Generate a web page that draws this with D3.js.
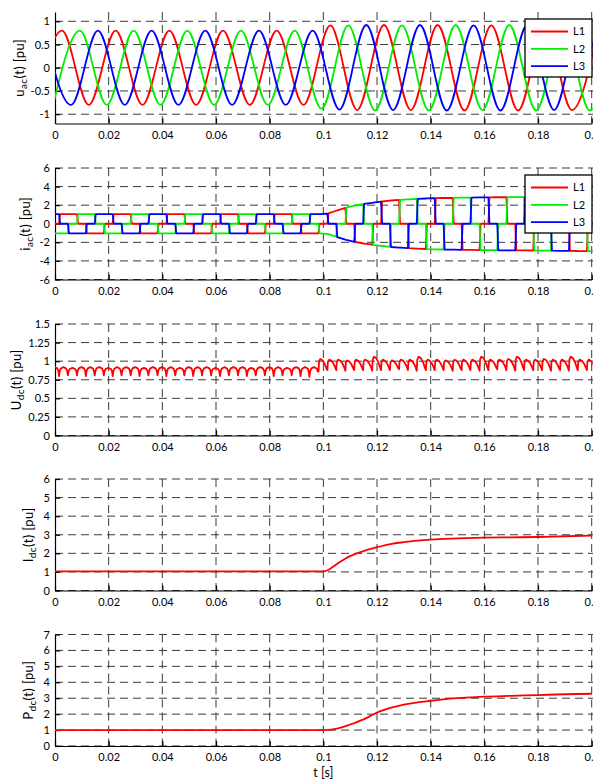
<!DOCTYPE html>
<html>
<head>
<meta charset="utf-8">
<script src="https://cdnjs.cloudflare.com/ajax/libs/d3/7.8.5/d3.min.js"></script>
<style>
    body { margin: 0; background: #fff; }
    svg { display: block; font-family: Lato, "Open Sans", sans-serif; }
    .grid line { stroke: #3a3a3a; stroke-width: 1; stroke-dasharray: 8,5; }
    .axis path, .axis line { stroke: #000; stroke-width: 1.2; }
    .axis text { font-size: 11px; fill: #000; font-family: Lato, "Open Sans", sans-serif; }
    .trace { fill: none; stroke-width: 1.8; stroke-linejoin: round; }
</style>
</head>
<body>
<div id="chart"></div>
<script>
// ---- data ----
var xTicks = [0, 0.02, 0.04, 0.06, 0.08, 0.1, 0.12, 0.14, 0.16, 0.18, 0.2];

// u_ac: extremum instants [s] and values [pu] of each phase
var uL1T = [-0.0074, 0.0026, 0.0126, 0.0226, 0.0326, 0.0426, 0.0526, 0.0626, 0.0726, 0.0826, 0.0926,
    0.1026, 0.1126, 0.1226, 0.1326, 0.1426, 0.1526, 0.1626, 0.1726, 0.1826, 0.1926, 0.2026];
var uL1V = [-0.8, 0.8, -0.8, 0.8, -0.8, 0.8, -0.8, 0.8, -0.8, 0.8, -0.8,
    0.91, -0.91, 0.92, -0.91, 0.92, -0.92, 0.91, -0.92, 0.92, -0.91, 0.92];
var uL2T = [-0.0007, 0.0093, 0.0193, 0.0293, 0.0393, 0.0493, 0.0593, 0.0693, 0.0793, 0.0893, 0.0993,
    0.1093, 0.1193, 0.1293, 0.1393, 0.1493, 0.1593, 0.1693, 0.1793, 0.1893, 0.1993, 0.2093];
var uL2V = [-0.8, 0.8, -0.8, 0.8, -0.8, 0.8, -0.8, 0.8, -0.8, 0.8, -0.88,
    0.91, -0.92, 0.91, -0.92, 0.92, -0.91, 0.92, -0.92, 0.91, -0.92, 0.91];
var uL3T = [-0.004, 0.006, 0.016, 0.026, 0.036, 0.046, 0.056, 0.066, 0.076, 0.086, 0.096,
    0.106, 0.116, 0.126, 0.136, 0.146, 0.156, 0.166, 0.176, 0.186, 0.196, 0.206];
var uL3V = [0.8, -0.8, 0.8, -0.8, 0.8, -0.8, 0.8, -0.8, 0.8, -0.8, 0.8,
    -0.9, 0.92, -0.91, 0.92, -0.92, 0.91, -0.92, 0.92, -0.91, 0.92, -0.91];

// commutation instants [s] (steps of i_ac, cusps of U_dc)
var commTimes = [-0.0018,
    0.0015, 0.0048, 0.0082, 0.0115, 0.0148, 0.0182,
    0.0215, 0.0248, 0.0282, 0.0315, 0.0348, 0.0382,
    0.0415, 0.0448, 0.0482, 0.0515, 0.0548, 0.0582,
    0.0615, 0.0648, 0.0682, 0.0715, 0.0748, 0.0782,
    0.0815, 0.0848, 0.0882, 0.0915, 0.0948, 0.0982,
    0.1015, 0.1048, 0.1082, 0.1115, 0.1148, 0.1182,
    0.1215, 0.1248, 0.1282, 0.1315, 0.1348, 0.1382,
    0.1415, 0.1448, 0.1482, 0.1515, 0.1548, 0.1582,
    0.1615, 0.1648, 0.1682, 0.1715, 0.1748, 0.1782,
    0.1815, 0.1848, 0.1882, 0.1915, 0.1948, 0.1982,
    0.2015];
var phaseNames = ["L1", "L2", "L3"];

// U_dc ripple: low (cusp) and high value of each commutation interval
var udcLo = [0.81, 0.80, 0.81, 0.81, 0.80, 0.81, 0.81, 0.80, 0.81, 0.81, 0.80, 0.81, 0.81, 0.80, 0.81,
    0.81, 0.80, 0.81, 0.81, 0.80, 0.81, 0.81, 0.80, 0.81, 0.81, 0.80, 0.81, 0.81, 0.80, 0.79,
    0.86, 0.88, 0.88, 0.87, 0.88, 0.88, 0.87, 0.88, 0.88, 0.89, 0.88, 0.87, 0.88, 0.88, 0.88, 0.87,
    0.88, 0.88, 0.87, 0.88, 0.89, 0.88, 0.87, 0.88, 0.88, 0.88, 0.87, 0.88, 0.87, 0.88, 0.88];
var udcHi = [0.92, 0.92, 0.91, 0.92, 0.92, 0.92, 0.91, 0.92, 0.92, 0.92, 0.91, 0.92, 0.92, 0.92, 0.91,
    0.92, 0.92, 0.92, 0.91, 0.92, 0.92, 0.92, 0.91, 0.92, 0.92, 0.92, 0.91, 0.92, 0.92, 0.92,
    1.03, 1.02, 1.02, 1.01, 1.02, 1.02, 1.06, 1.02, 1.01, 1.02, 1.02, 1.06, 1.02, 1.02, 1.01, 1.02,
    1.02, 1.02, 1.06, 1.02, 1.02, 1.03, 1.06, 1.02, 1.02, 1.03, 1.02, 1.02, 1.06, 1.02, 1.02];
// ripple profile within one interval: [fraction of interval, fraction of lo->hi]
var rippleBefore = [[0, 0], [0.08, 0.55], [0.2, 0.85], [0.5, 1], [0.8, 0.85], [0.92, 0.55], [1, 0]];
var rippleAfter = [[0, 0], [0.06, 0.8], [0.2, 1], [0.45, 0.9], [0.7, 0.6], [0.88, 0.25], [1, 0]];

// I_dc and P_dc samples
var idcT = [0, 0.1, 0.102, 0.104, 0.106, 0.108, 0.11, 0.112, 0.115, 0.118, 0.12, 0.125, 0.13, 0.135,
    0.14, 0.15, 0.16, 0.17, 0.18, 0.19, 0.2];
var idcV = [1.03, 1.03, 1.12, 1.32, 1.52, 1.7, 1.85, 1.97, 2.12, 2.25, 2.33, 2.5, 2.6, 2.68,
    2.74, 2.8, 2.84, 2.86, 2.88, 2.92, 2.95];
var pdcT = [0, 0.1, 0.103, 0.105, 0.11, 0.115, 0.12, 0.125, 0.13, 0.14, 0.15, 0.16, 0.17, 0.18, 0.19, 0.2];
var pdcV = [1.0, 1.0, 1.03, 1.09, 1.35, 1.67, 2.1, 2.39, 2.6, 2.84, 3.0, 3.1, 3.15, 3.2, 3.25, 3.28];

// ---- layout ----
var width = 593, height = 779;
var left = 55, right = 591.7;
var panelH = 111.5;
var panelTop = [12, 168, 324, 479, 634.5];
var colors = {L1: "#ff0000", L2: "#00ee00", L3: "#0000ff"};
var overlap = 0.0004;

var x = d3.scaleLinear().domain([0, 0.2]).range([left, right]);

var svg = d3.select("#chart").append("svg")
    .attr("width", width)
    .attr("height", height);

function panel(i, yDomain, yTicks, labMain, labSub, labX) {
    var top = panelTop[i], bottom = top + panelH;
    var y = d3.scaleLinear().domain(yDomain).range([bottom, top]);
    var g = svg.append("g");

    g.append("clipPath").attr("id", "clip" + i)
        .append("rect")
        .attr("x", left).attr("y", top)
        .attr("width", right - left + 1).attr("height", panelH);

    // grid
    var grid = g.append("g").attr("class", "grid");
    grid.selectAll(".h").data(yTicks).enter().append("line")
        .attr("class", "h")
        .attr("x1", left).attr("x2", width)
        .attr("y1", function (d) { return y(d); })
        .attr("y2", function (d) { return y(d); });
    grid.selectAll(".v").data(xTicks.slice(1)).enter().append("line")
        .attr("class", "v")
        .attr("x1", function (d) { return x(d); })
        .attr("x2", function (d) { return x(d); })
        .attr("y1", top).attr("y2", bottom);

    // axes
    g.append("g").attr("class", "axis")
        .attr("transform", "translate(0," + bottom + ")")
        .call(d3.axisBottom(x).tickValues(xTicks).tickSizeInner(-5).tickSizeOuter(0).tickPadding(7.5)
            .tickFormat(function (d) { return String(d); }));
    g.append("g").attr("class", "axis")
        .attr("transform", "translate(" + left + ",0)")
        .call(d3.axisLeft(y).tickValues(yTicks).tickSizeInner(-5).tickSizeOuter(0).tickPadding(5)
            .tickFormat(function (d) { return String(d); }));

    // y label with subscript
    var lab = g.append("text")
        .attr("transform", "translate(" + labX + "," + (top + panelH / 2) + ") rotate(-90)")
        .attr("text-anchor", "middle")
        .style("font-size", "13px")
        .style("letter-spacing", "0.4px");
    lab.append("tspan").text(labMain);
    lab.append("tspan").attr("dy", 3).style("font-size", "10px").text(labSub);
    lab.append("tspan").attr("dy", -3).text("(t) [pu]");

    var plot = g.append("g").attr("clip-path", "url(#clip" + i + ")");
    return {y: y, plot: plot, top: top};
}

function legend(p) {
    var lg = svg.append("g").attr("transform", "translate(525," + (p.top + 7) + ")");
    lg.append("rect")
        .attr("width", 67).attr("height", 58)
        .attr("fill", "#fff").attr("stroke", "#000").attr("stroke-width", 1.3);
    var row = lg.selectAll(".row").data(phaseNames).enter().append("g")
        .attr("transform", function (d, i) { return "translate(0," + (12.5 + i * 17.3) + ")"; });
    row.append("line")
        .attr("x1", 6).attr("x2", 43)
        .attr("stroke", function (d) { return colors[d]; })
        .attr("stroke-width", 1.8);
    row.append("text")
        .attr("x", 48).attr("dy", "0.35em")
        .style("font-size", "11px")
        .text(function (d) { return d; });
}

function zip(t, v) {
    return t.map(function (d, i) { return [d, v[i]]; });
}

// ---- u_ac ----
var p1 = panel(0, [-1.2, 1.2], [-1, -0.5, 0, 0.5, 1], "u", "ac", 24);
var smooth = d3.line()
    .x(function (d) { return x(d[0]); })
    .y(function (d) { return p1.y(d[1]); })
    .curve(d3.curveMonotoneX);
var uac = [zip(uL1T, uL1V), zip(uL2T, uL2V), zip(uL3T, uL3V)];
p1.plot.selectAll("path").data(uac).enter().append("path")
    .attr("class", "trace")
    .attr("stroke", function (d, i) { return colors[phaseNames[i]]; })
    .attr("d", smooth);
legend(p1);

// ---- i_ac: each phase carries +I_dc, -I_dc or 0 between commutations ----
var p2 = panel(1, [-6, 6], [-6, -4, -2, 0, 2, 4, 6], "i", "ac", 30);
var idcAt = d3.scaleLinear().domain(idcT).range(idcV).clamp(true);
var bounds = [-0.006].concat(commTimes).concat([0.21]);
var posRail = 2, negRail = 0;
var iac = [[], [], []];
for (var k = 0; k < bounds.length - 1; k++) {
    if (k > 0) {
        if ((k - 1) % 2 == 0) negRail = (negRail + 1) % 3;
        else posRail = (posRail + 1) % 3;
    }
    var ta = bounds[k] + (k > 0 ? overlap : 0), tb = bounds[k + 1];
    for (var ph = 0; ph < 3; ph++) {
        var s = ph == posRail ? 1 : (ph == negRail ? -1 : 0);
        iac[ph].push([ta, s * idcAt(ta)], [tb, s * idcAt(tb)]);
    }
}
var stepLine = d3.line()
    .x(function (d) { return x(d[0]); })
    .y(function (d) { return p2.y(d[1]); });
p2.plot.selectAll("path").data(iac).enter().append("path")
    .attr("class", "trace")
    .attr("stroke", function (d, i) { return colors[phaseNames[i]]; })
    .attr("d", stepLine);
legend(p2);

// ---- U_dc ----
var p3 = panel(2, [0, 1.5], [0, 0.25, 0.5, 0.75, 1, 1.25, 1.5], "U", "dc", 21);
var udc = [];
for (var j = 0; j < commTimes.length - 1; j++) {
    var t0 = commTimes[j], t1 = commTimes[j + 1];
    var shape = t0 < 0.098 ? rippleBefore : rippleAfter;
    shape.forEach(function (sp, n) {
        if (n < shape.length - 1) udc.push([t0 + sp[0] * (t1 - t0), udcLo[j] + sp[1] * (udcHi[j] - udcLo[j])]);
    });
}
p3.plot.append("path")
    .datum(udc)
    .attr("class", "trace")
    .attr("stroke", colors.L1)
    .attr("d", d3.line()
        .x(function (d) { return x(d[0]); })
        .y(function (d) { return p3.y(d[1]); }));

// ---- I_dc ----
var p4 = panel(3, [0, 6], [0, 1, 2, 3, 4, 5, 6], "I", "dc", 33);
p4.plot.append("path")
    .datum(zip(idcT, idcV))
    .attr("class", "trace")
    .attr("stroke", colors.L1)
    .attr("d", d3.line()
        .x(function (d) { return x(d[0]); })
        .y(function (d) { return p4.y(d[1]); })
        .curve(d3.curveMonotoneX));

// ---- P_dc ----
var p5 = panel(4, [0, 7], [0, 1, 2, 3, 4, 5, 6, 7], "P", "dc", 33);
p5.plot.append("path")
    .datum(zip(pdcT, pdcV))
    .attr("class", "trace")
    .attr("stroke", colors.L1)
    .attr("d", d3.line()
        .x(function (d) { return x(d[0]); })
        .y(function (d) { return p5.y(d[1]); })
        .curve(d3.curveMonotoneX));

svg.append("text")
    .attr("x", x(0.1))
    .attr("y", 777)
    .attr("text-anchor", "middle")
    .style("font-size", "12.5px")
    .text("t [s]");
</script>
</body>
</html>
